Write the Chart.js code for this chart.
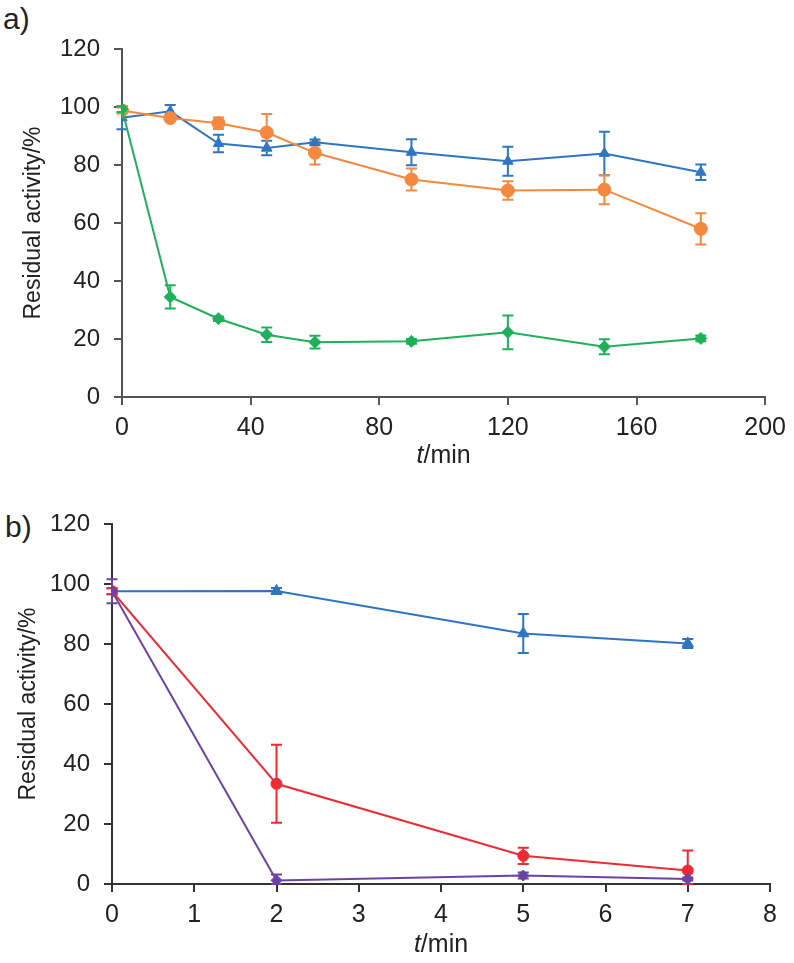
<!DOCTYPE html>
<html>
<head>
<meta charset="utf-8">
<script src="https://cdn.jsdelivr.net/npm/chart.js@4.4.1/dist/chart.umd.min.js"></script>
<style>
  body { margin: 0; background: #fff; width: 794px; height: 963px; position: relative; overflow: hidden; }
  canvas { position: absolute; left: 0; }
  .panel { position: absolute; font-family: "Liberation Sans", Arial, sans-serif; font-size: 30px; color: #222; }
</style>
</head>
<body>
<div class="panel" style="left:3px; top:2px;">a)</div>
<div class="panel" style="left:5px; top:510px;">b)</div>
<canvas id="chartA" width="794" height="480" style="top:0px"></canvas>
<canvas id="chartB" width="794" height="483" style="top:480px"></canvas>
<script>
// panel a) - long incubation
var timeA = [0, 15, 30, 45, 60, 90, 120, 150, 180];
var blueA = [96.3, 98.5, 87.4, 85.9, 87.8, 84.4, 81.3, 84.0, 77.5];
var blueAErr = [4, 2.2, 3, 2.5, 1, 4.5, 5, 7.5, 2.7];
var orangeA = [98.8, 96.2, 94.4, 91.2, 84.2, 75.0, 71.2, 71.5, 58.0];
var orangeAErr = [1, 1, 2, 6.4, 4, 3.8, 3.2, 5, 5.4];
var greenA = [99.3, 34.5, 27.0, 21.5, 18.9, 19.2, 22.3, 17.3, 20.2];
var greenAErr = [1, 4, 0.8, 2.5, 2.2, 0.8, 5.8, 2.6, 1];
var ticksA = [0, 40, 80, 120, 160, 200];

// panel b) - short incubation
var timeB = [0, 2, 5, 7];
var blueB = [97.6, 97.7, 83.5, 80.2];
var blueBErr = [1, 1, 6.5, 1.5];
var redB = [97.6, 33.4, 9.4, 4.5];
var redBErr = [1, 13, 2.7, 6.7];
var purpleB = [97.6, 1.2, 2.8, 1.7];
var purpleBErr = [4, 2, 1, 0.5];
var ticksB = [0, 1, 2, 3, 4, 5, 6, 7, 8];

var ticksY = [0, 20, 40, 60, 80, 100, 120];

var FONT = '"Liberation Sans", Arial, sans-serif';

function pts(xs, ys) {
    return xs.map(function (x, i) { return { x: x, y: ys[i] }; });
}

function serie(xs, ys, err, color, style, radius, order) {
    return {
        data: pts(xs, ys),
        err: err,
        borderColor: color,
        backgroundColor: color,
        borderWidth: 2,
        pointStyle: style,
        pointRadius: radius,
        pointBorderWidth: 1,
        lineTension: 0,
        fill: false,
        order: order
    };
}

// error bars drawn with the chart's own scales
var errorBars = {
    id: 'errorBars',
    beforeDatasetsDraw: function (chart) {
        var ctx = chart.ctx, xs = chart.scales.x, ys = chart.scales.y;
        ctx.save();
        chart.data.datasets.forEach(function (ds) {
            ctx.strokeStyle = ds.borderColor;
            ctx.lineWidth = 2;
            ds.data.forEach(function (p, i) {
                var e = ds.err[i];
                var px = xs.getPixelForValue(p.x);
                var top = ys.getPixelForValue(p.y + e);
                var bot = ys.getPixelForValue(Math.max(p.y - e, 0));
                ctx.beginPath();
                ctx.moveTo(px, top); ctx.lineTo(px, bot);
                ctx.moveTo(px - 5.5, top); ctx.lineTo(px + 5.5, top);
                ctx.moveTo(px - 5.5, bot); ctx.lineTo(px + 5.5, bot);
                ctx.stroke();
            });
        });
        ctx.restore();
    }
};

// x title with italic t
var xTitle = {
    id: 'xTitle',
    afterDraw: function (chart, args, opts) {
        var ctx = chart.ctx, ca = chart.chartArea;
        ctx.save();
        ctx.fillStyle = '#222';
        ctx.textBaseline = 'middle';
        ctx.font = 'italic 25px ' + FONT;
        var w1 = ctx.measureText('t').width;
        ctx.font = '25px ' + FONT;
        var w2 = ctx.measureText('/min').width;
        var x0 = (ca.left + ca.right) / 2 - (w1 + w2) / 2;
        var y0 = ca.bottom + opts.dy;
        ctx.font = 'italic 25px ' + FONT;
        ctx.fillText('t', x0, y0);
        ctx.font = '25px ' + FONT;
        ctx.fillText('/min', x0 + w1, y0);
        ctx.restore();
    }
};

function makeOptions(xmax, xticks, axisColor, yWidth, titlePad, pad, xFont, dy) {
    return {
        responsive: false,
        animation: false,
        layout: { padding: pad },
        plugins: {
            legend: { display: false },
            tooltip: { enabled: false },
            xTitle: { dy: dy }
        },
        scales: {
            x: {
                type: 'linear',
                min: 0, max: xmax,
                afterBuildTicks: function (s) { s.ticks = xticks.map(function (v) { return { value: v }; }); },
                afterFit: function (s) { s.height = 75; },
                grid: { display: true, drawOnChartArea: false, drawTicks: true, tickLength: 8, color: axisColor, lineWidth: 2 },
                border: { display: true, color: axisColor, width: 2 },
                ticks: { color: '#222', padding: 8, font: { family: FONT, size: xFont }, maxRotation: 0 }
            },
            y: {
                min: 0, max: 120,
                afterBuildTicks: function (s) { s.ticks = ticksY.map(function (v) { return { value: v }; }); },
                afterFit: function (s) { s.width = yWidth; },
                grid: { display: true, drawOnChartArea: false, drawTicks: true, tickLength: 8, color: axisColor, lineWidth: 2 },
                border: { display: true, color: axisColor, width: 2 },
                ticks: { color: '#222', padding: 14, font: { family: FONT, size: 24 } },
                title: { display: true, text: 'Residual activity/%', color: '#222', font: { family: FONT, size: 23 }, padding: { top: titlePad, bottom: 0 } }
            }
        }
    };
}

var cA = document.getElementById('chartA').getContext('2d');
var chartA = new Chart(cA, {
    type: 'line',
    data: {
        datasets: [
            serie(timeA, blueA, blueAErr, '#2E75C2', 'triangle', 6, 3),
            serie(timeA, orangeA, orangeAErr, '#F5883F', 'circle', 6.5, 2),
            serie(timeA, greenA, greenAErr, '#1FB15A', 'rectRot', 6, 1)
        ]
    },
    options: makeOptions(200, ticksA, '#555555', 122, 20, { left: 0, right: 28, top: 49, bottom: 8 }, 25, 59),
    plugins: [errorBars, xTitle]
});

var cB = document.getElementById('chartB').getContext('2d');
var chartB = new Chart(cB, {
    type: 'line',
    data: {
        datasets: [
            serie(timeB, blueB, blueBErr, '#2E75C2', 'triangle', 6.5, 3),
            serie(timeB, redB, redBErr, '#EE2A33', 'circle', 5.5, 2),
            serie(timeB, purpleB, purpleBErr, '#6A44A5', 'rectRot', 5.5, 1)
        ]
    },
    options: makeOptions(8, ticksB, '#333333', 112, 15, { left: 0, right: 24, top: 44, bottom: 4 }, 25, 61),
    plugins: [errorBars, xTitle]
});
</script>
</body>
</html>
